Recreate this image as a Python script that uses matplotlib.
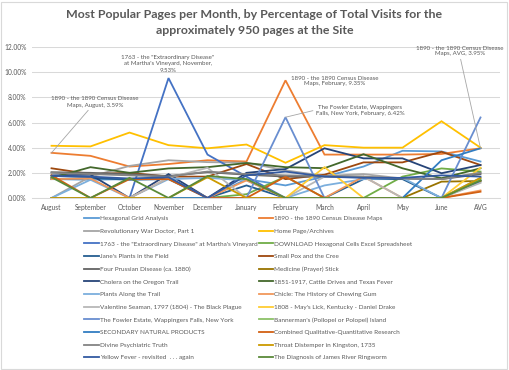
import matplotlib
matplotlib.use("Agg")
import matplotlib.pyplot as plt
from matplotlib.lines import Line2D
from matplotlib.patches import Rectangle
from matplotlib.ticker import FuncFormatter

plt.rcParams['font.family'] = ['Lato', 'DejaVu Sans']

months = ["August", "September", "October", "November", "December", "January",
          "February", "March", "April", "May", "June", "AVG"]

series_names = [
    "Hexagonal Grid Analysis",
    "1890 - the 1890 Census Disease Maps",
    "Revolutionary War Doctor, Part 1",
    "Home Page/Archives",
    "1763 - the \"Extraordinary Disease\" at Martha's Vineyard",
    "DOWNLOAD Hexagonal Cells Excel Spreadsheet",
    "Jane's Plants in the Field",
    "Small Pox and the Cree",
    "Four Prussian Disease (ca. 1880)",
    "Medicine (Prayer) Stick",
    "Cholera on the Oregon Trail",
    "1851-1917, Cattle Drives and Texas Fever",
    "Plants Along the Trail",
    "Chicle: The History of Chewing Gum",
    "Valentine Seaman, 1797 (1804) - The Black Plague",
    "1808 - May's Lick, Kentucky - Daniel Drake",
    "The Fowler Estate, Wappingers Falls, New York",
    "Bannerman's (Pollopel or Polopel) Island",
    "SECONDARY NATURAL PRODUCTS",
    "Combined Qualitative-Quantitative Research",
    "Divine Psychiatric Truth",
    "Throat Distemper in Kingston, 1735",
    "Yellow Fever - revisited  . . . again",
    "The Diagnosis of James River Ringworm",
]

# values in percent: Aug..Jun, AVG
hexagonal   = [1.50, 1.45, 1.50, 1.60, 0.00, 1.50, 1.00, 1.70, 2.50, 3.75, 3.70, 2.90]
census1890  = [3.59, 3.35, 2.50, 2.70, 3.00, 2.90, 9.35, 3.45, 3.45, 3.45, 3.50, 3.95]
revwar      = [0.00, 1.70, 2.55, 3.00, 2.85, 2.80, 2.20, 1.75, 1.90, 1.55, 1.55, 2.00]
homepage    = [4.15, 4.10, 5.20, 4.20, 3.95, 4.25, 2.80, 4.20, 4.00, 4.00, 6.10, 4.00]
disease1763 = [0.00, 0.00, 0.00, 9.53, 3.45, 1.70, 0.00, 0.00, 0.00, 0.00, 0.00, 1.30]
download    = [0.00, 0.00, 0.00, 0.00, 0.00, 0.30, 1.70, 0.00, 0.00, 1.70, 2.35, 2.10]
janes       = [1.50, 1.60, 1.45, 1.50, 0.00, 1.00, 0.00, 0.00, 1.50, 1.50, 0.00, 1.40]
smallpox    = [2.36, 1.90, 2.00, 1.70, 1.70, 2.70, 1.50, 1.85, 2.83, 2.83, 3.67, 2.62]
prussian    = [2.05, 2.00, 1.90, 1.75, 2.05, 1.85, 1.70, 1.70, 1.65, 1.55, 1.50, 1.90]
medicine    = [0.00, 0.00, 0.00, 0.00, 0.00, 0.00, 0.00, 0.00, 0.00, 0.00, 1.30, 1.35]
cholera     = [1.80, 1.85, 0.00, 1.90, 0.00, 2.00, 2.30, 3.95, 3.15, 3.15, 1.97, 2.62]
cattle      = [1.60, 2.45, 2.00, 2.35, 2.45, 2.78, 2.45, 2.37, 3.48, 2.36, 1.57, 2.36]
plants      = [0.00, 1.45, 0.00, 1.50, 1.60, 1.40, 0.00, 1.00, 1.50, 1.60, 0.00, 1.60]
chicle      = [1.50, 1.55, 0.00, 1.60, 0.00, 1.40, 0.00, 0.00, 1.70, 0.00, 0.00, 0.60]
valentine   = [0.00, 0.00, 0.00, 1.60, 2.40, 0.00, 0.00, 1.70, 1.70, 0.00, 0.00, 1.20]
mayslick    = [0.00, 0.00, 0.00, 0.00, 0.00, 0.00, 0.00, 2.45, 0.00, 0.00, 0.00, 2.40]
fowler      = [0.00, 0.00, 0.00, 0.00, 0.00, 0.00, 6.42, 0.00, 0.00, 0.00, 0.00, 6.40]
bannerman   = [0.00, 0.00, 0.00, 0.00, 0.00, 0.00, 0.00, 0.00, 0.00, 0.00, 0.00, 1.50]
secondary   = [0.00, 0.00, 0.00, 0.00, 0.00, 0.00, 0.00, 0.00, 0.00, 0.00, 3.00, 3.95]
combined    = [1.80, 0.00, 1.50, 1.50, 0.00, 0.00, 1.70, 0.00, 0.00, 0.00, 0.00, 0.50]
divine      = [2.00, 1.90, 1.80, 1.70, 2.10, 1.90, 1.80, 1.75, 1.70, 1.55, 1.50, 2.00]
throat      = [0.00, 0.00, 0.00, 0.00, 1.65, 0.00, 0.00, 0.00, 0.00, 0.00, 0.00, 1.60]
yellowfever = [1.75, 1.70, 1.55, 1.65, 0.00, 1.80, 2.10, 1.70, 1.60, 1.60, 1.80, 1.70]
ringworm    = [1.65, 0.00, 1.60, 0.00, 1.75, 1.50, 0.00, 0.00, 0.00, 0.00, 0.00, 1.40]

series_values = [hexagonal, census1890, revwar, homepage, disease1763, download,
                 janes, smallpox, prussian, medicine, cholera, cattle,
                 plants, chicle, valentine, mayslick, fowler, bannerman,
                 secondary, combined, divine, throat, yellowfever, ringworm]

colors = ["#5B9BD5", "#ED7D31", "#A5A5A5", "#FFC000", "#4472C4", "#70AD47",
          "#255E91", "#9E480E", "#636363", "#997300", "#264478", "#43682B",
          "#7CAFDD", "#F1975A", "#B7B7B7", "#FFCD33", "#698ED0", "#8CC168",
          "#327DC2", "#D26012", "#848484", "#CC9A00", "#335AA1", "#5A8A39"]

W, H = 509, 370
fig = plt.figure(figsize=(W / 100, H / 100), dpi=100)
ax = fig.add_axes([32 / W, 1 - 198 / H, 468 / W, 151 / H])

x = list(range(len(months)))
handles = []
for name, vals, c in zip(series_names, series_values, colors):
    ln, = ax.plot(x, vals, color=c, lw=1.3, solid_joinstyle='miter', label=name)
    handles.append(ln)

ax.set_xlim(-0.5, len(months) - 0.5)
ax.set_ylim(0, 12)
ax.set_yticks([0, 2, 4, 6, 8, 10, 12])
ax.yaxis.set_major_formatter(FuncFormatter(lambda v, p: f"{v:.2f}%"))
ax.set_xticks(x)
ax.set_xticklabels(months)
ax.grid(axis='y', color='#D9D9D9', lw=0.75)
ax.set_axisbelow(True)
for s in ['top', 'right', 'left']:
    ax.spines[s].set_visible(False)
ax.spines['bottom'].set_color('#D9D9D9')
ax.spines['bottom'].set_linewidth(0.75)
ax.tick_params(axis='both', length=0, labelsize=4.8, colors='#595959', pad=4)

fig.text(0.5, 1 - 15 / H, "Most Popular Pages per Month, by Percentage of Total Visits for the",
         ha='center', va='center', fontsize=8.9, color='#595959', fontweight='bold')
fig.text(0.5, 1 - 30 / H, "approximately 950 pages at the Site",
         ha='center', va='center', fontsize=8.9, color='#595959', fontweight='bold')

lab_kw = dict(fontsize=4.4, color='#595959', ha='center', va='center', linespacing=1.25)
arrow_kw = dict(arrowstyle='-', color='#A6A6A6', lw=0.6, shrinkA=0, shrinkB=0)

ax.annotate("1763 - the \"Extraordinary Disease\"\nat Martha's Vineyard, November,\n9.53%",
            xy=(3, disease1763[3]), xytext=(168, 370 - 64), textcoords='figure pixels', **lab_kw)
ax.annotate("1890 - the 1890 Census Disease\nMaps, February, 9.35%",
            xy=(6, census1890[6]), xytext=(335, 370 - 81), textcoords='figure pixels', **lab_kw)
ax.annotate("1890 - the 1890 Census Disease\nMaps, AVG, 3.95%",
            xy=(11, census1890[11]), xytext=(460, 370 - 51), textcoords='figure pixels',
            arrowprops=dict(**arrow_kw, relpos=(0.5, 0.0)), **lab_kw)
ax.annotate("1890 - the 1890 Census Disease\nMaps, August, 3.59%",
            xy=(0, census1890[0]), xytext=(95, 370 - 102), textcoords='figure pixels',
            arrowprops=dict(**arrow_kw, relpos=(0.45, 0.0)), **lab_kw)
ax.annotate("The Fowler Estate, Wappingers\nFalls, New York, February, 6.42%",
            xy=(6, fowler[6]), xytext=(360, 370 - 110), textcoords='figure pixels',
            arrowprops=dict(**arrow_kw, relpos=(0.0, 0.5)), **lab_kw)

order = list(range(0, 24, 2)) + list(range(1, 24, 2))
leg_h = [Line2D([0], [0], color=colors[i], lw=1.3) for i in order]
leg_l = [series_names[i] for i in order]
fig.legend(leg_h, leg_l, ncol=2, loc='upper left', bbox_to_anchor=(84 / W, 1 - 216 / H),
           frameon=False, fontsize=4.6, handlelength=2.3, handletextpad=0.15,
           labelspacing=1.12, columnspacing=0.2, borderaxespad=0, borderpad=0,
           labelcolor='#595959')

fig.patches.append(Rectangle((1 / W, 1.5 / H), (W - 3) / W, (H - 3) / H,
                             transform=fig.transFigure, fill=False,
                             edgecolor='#D9D9D9', lw=0.8))

fig.savefig("out.png", dpi=100)
